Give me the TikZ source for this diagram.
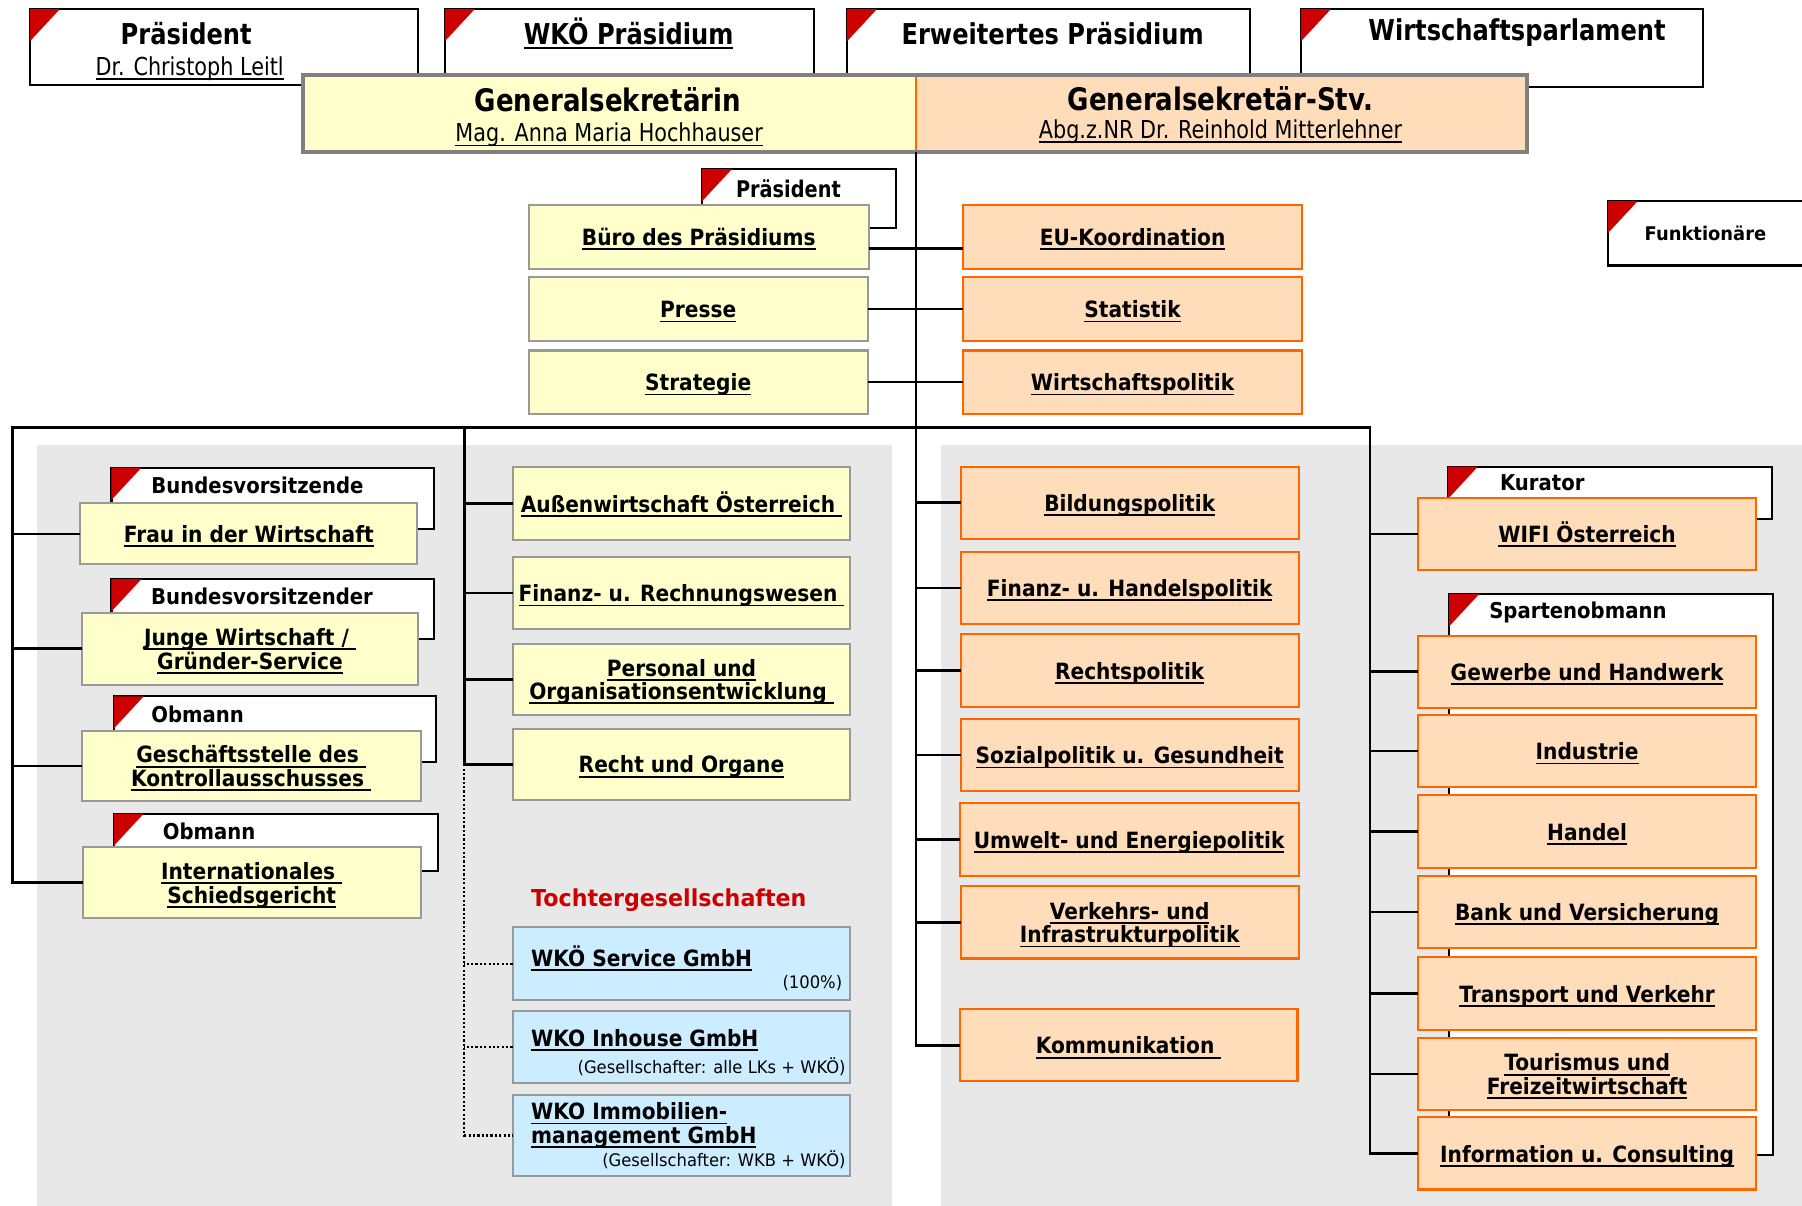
\documentclass[tikz,border=0pt]{standalone}
\usepackage{fontspec}
\setmainfont{DejaVu Sans}
\newfontfamily\lab[FakeStretch=0.9]{DejaVu Sans}
\newfontfamily\labw[FakeStretch=0.95]{DejaVu Sans}
\newfontfamily\cond[FakeStretch=0.84]{DejaVu Sans}
\newcommand\myul[1]{\begingroup\setbox0\hbox{#1}\rlap{\smash{\rule[-4pt]{\wd0}{1.6pt}}}\smash{\box0}\vrule height 0.9em depth 0.12em width 0pt\endgroup}
\definecolor{yel}{HTML}{FFFFCC}
\definecolor{peach}{HTML}{FFDDBB}
\definecolor{org}{HTML}{FF6600}
\definecolor{blu}{HTML}{CCECFF}
\definecolor{bgr}{HTML}{E8E8E8}
\definecolor{rd}{HTML}{CC0000}
\definecolor{gbord}{HTML}{999999}
\definecolor{gsbord}{HTML}{808080}
\tikzset{
 base/.style={rectangle, inner sep=0pt, outer sep=0pt, line width=1.8pt},
 ybox/.style={base, fill=yel, draw=gbord, lbl},
 obox/.style={base, fill=peach, draw=org, lbl},
 bbox/.style={base, fill=blu, draw=gbord},
 fbox/.style={base, fill=white, draw=black},
 tbox/.style={base, fill=white, draw=black},
 conn/.style={line width=2.3pt, black},
 dconn/.style={line width=1.9pt, black, dash pattern=on 1.9pt off 1.9pt},
 lbl/.style={font=\lab\bfseries\fontsize{19.5}{20.5}\selectfont, align=center},
 ft/.style={font=\lab\bfseries\fontsize{19}{20}\selectfont, inner sep=0pt},
 ftc/.style={font=\cond\bfseries\fontsize{20}{22}\selectfont, inner sep=0pt},
 tt/.style={font=\cond\bfseries\fontsize{25}{28}\selectfont, inner sep=0pt},
 tn/.style={font=\cond\fontsize{21.5}{24}\selectfont, inner sep=0pt},
 gt/.style={font=\cond\bfseries\fontsize{27}{30}\selectfont, inner sep=0pt},
 btit/.style={font=\lab\bfseries\fontsize{19.5}{20.5}\selectfont, inner sep=0pt, align=left},
 bsub/.style={font=\labw\fontsize{15}{16}\selectfont, inner sep=0pt},
}
\newcommand\mybox[7]{%
 \pgfmathsetmacro\bxw{#5-#3}\pgfmathsetmacro\bxh{#6-#4}%
 \pgfmathsetmacro\bxx{(#3+#5)/2}\pgfmathsetmacro\bxy{(#4+#6)/2}%
 \node[#2, minimum width=\bxw pt, minimum height=\bxh pt] (#1) at (\bxx,\bxy) {#7};}
\newcommand\redtri[1]{\fill[rd] (#1.north west) -- ++(26,0) -- ++(-26,28) -- cycle;}
\begin{document}
\begin{tikzpicture}[x=1pt,y=-1pt]
\useasboundingbox (0,0) rectangle (1568,1049);
\fill[white] (0,0) rectangle (1568,1049);
\fill[bgr] (32,387) rectangle (776,1049);
\fill[bgr] (819,387) rectangle (1568,1049);

% top row
\mybox{tp1}{tbox}{26}{8}{364}{74}{}\redtri{tp1}
\node[tt] (tp1a) at (162,29) {Präsident};
\node[tn] (tp1b) at (165,57) {\myul{Dr. Christoph Leitl}};
\mybox{tp2}{tbox}{387}{8}{708}{70}{}\redtri{tp2}
\node[tt] (tp2a) at (547,29) {\myul{WKÖ Präsidium}};
\mybox{tp3}{tbox}{737}{8}{1088}{70}{}\redtri{tp3}
\node[tt] (tp3a) at (916,29) {Erweitertes Präsidium};
\mybox{tp4}{tbox}{1132}{8}{1482}{76}{}\redtri{tp4}
\node[tt] (tp4a) at (1320,28) {Wirtschaftsparlament};

% Generalsekretariat
\mybox{gsl}{base, fill=yel}{264}{65}{797}{132}{}
\mybox{gsr}{base, fill=peach}{797}{65}{1329}{132}{}
\draw[org, line width=1.2pt] (gsl.north east) -- (gsl.south east);
\draw[gsbord, line width=3.5pt] (gsl.north west) rectangle (gsr.south east);
\node[gt] (gslt) at (529,87) {Generalsekretärin};
\node[tn] (gsln) at (530,115) {\myul{Mag. Anna Maria Hochhauser}};
\node[gt] (gsrt) at (1062,86) {Generalsekretär-Stv.};
\node[tn] (gsrn) at (1062,112) {\myul{Abg.z.NR Dr. Reinhold Mitterlehner}};

% legend
\mybox{funk}{fbox}{1399}{175}{1590}{231}{}\redtri{funk}
\node[font=\labw\bfseries\fontsize{16.4}{18}\selectfont, inner sep=0pt] (funkt) at (1484,203) {Funktionäre};

% staff units
\mybox{fpraes}{fbox}{611}{147}{780}{198}{}\redtri{fpraes}
\node[ftc] (fpraest) at (686,164) {Präsident};
\mybox{buero}{ybox}{460}{178}{756}{234}{\myul{Büro des Präsidiums}}
\mybox{presse}{ybox}{460}{241}{755}{297}{\myul{Presse}}
\mybox{strat}{ybox}{460}{305}{755}{360}{\myul{Strategie}}
\mybox{eu}{obox}{838}{178}{1133}{234}{\myul{EU-Koordination}}
\mybox{stat}{obox}{838}{241}{1133}{297}{\myul{Statistik}}
\mybox{wp}{obox}{838}{305}{1133}{360}{\myul{Wirtschaftspolitik}}

% left column
\mybox{fl1}{fbox}{97}{407}{378}{460}{}\redtri{fl1}
\node[ft] (fl1t) at (224,422) {Bundesvorsitzende};
\mybox{frau}{ybox}{70}{438}{363}{491}{\myul{Frau in der Wirtschaft}}
\mybox{fl2}{fbox}{97}{504}{378}{556}{}\redtri{fl2}
\node[ft] (fl2t) at (228,519) {Bundesvorsitzender};
\mybox{junge}{ybox}{71}{533}{364}{596}{\myul{Junge Wirtschaft /\ }\\\myul{Gründer-Service}}
\mybox{fl3}{fbox}{99}{606}{379}{663}{}\redtri{fl3}
\node[ft] (fl3t) at (172,622) {Obmann};
\mybox{gesch}{ybox}{71}{636}{366}{697}{\myul{Geschäftsstelle des\ }\\\myul{Kontrollausschusses\ }}
\mybox{fl4}{fbox}{99}{708}{381}{758}{}\redtri{fl4}
\node[ft] (fl4t) at (182,723) {Obmann};
\mybox{intl}{ybox}{72}{737}{366}{799}{\myul{Internationales\ }\\\myul{Schiedsgericht}}

% middle-left column
\mybox{aussen}{ybox}{446}{406}{740}{470}{\myul{Außenwirtschaft Österreich\ }}
\mybox{finrw}{ybox}{446}{485}{740}{547}{\myul{Finanz- u. Rechnungswesen\ }}
\mybox{pers}{ybox}{446}{560}{740}{622}{\myul{Personal und}\\\myul{Organisationsentwicklung\ }}
\mybox{recht}{ybox}{446}{634}{740}{696}{\myul{Recht und Organe}}
\node[font=\labw\bfseries\fontsize{20.3}{22}\selectfont, text=rd, inner sep=0pt] (toch) at (582,783) {Tochtergesellschaften};
\mybox{svc}{bbox}{446}{807}{740}{870}{}
\node[btit, anchor=west] (svct) at (462,833) {\myul{WKÖ Service GmbH}};
\node[bsub, anchor=east] (svcs) at (733,855) {(100\%)};
\mybox{inh}{bbox}{446}{880}{740}{942}{}
\node[btit, anchor=west] (inht) at (462,903) {\myul{WKO Inhouse GmbH}};
\node[bsub, anchor=east] (inhs) at (736,928) {(Gesellschafter: alle LKs + WKÖ)};
\mybox{immo}{bbox}{446}{953}{740}{1023}{}
\node[btit, anchor=west] (immot) at (462,977) {\myul{WKO Immobilien-}\\\myul{management GmbH}};
\node[bsub, anchor=east] (immos) at (736,1009) {(Gesellschafter: WKB + WKÖ)};

% middle-right column
\mybox{bild}{obox}{836}{406}{1130}{469}{\myul{Bildungspolitik}}
\mybox{finh}{obox}{836}{480}{1130}{543}{\myul{Finanz- u. Handelspolitik}}
\mybox{rechtsp}{obox}{836}{552}{1130}{615}{\myul{Rechtspolitik}}
\mybox{sozial}{obox}{836}{626}{1130}{688}{\myul{Sozialpolitik u. Gesundheit}}
\mybox{umwelt}{obox}{835}{699}{1130}{762}{\myul{Umwelt- und Energiepolitik}}
\mybox{verk}{obox}{836}{771}{1130}{834}{\myul{Verkehrs- und}\\\myul{Infrastrukturpolitik}}
\mybox{komm}{obox}{835}{878}{1129}{941}{\myul{Kommunikation\ }}

% right column
\mybox{kur}{fbox}{1260}{406}{1542}{452}{}\redtri{kur}
\node[ft] (kurt) at (1342,420) {Kurator};
\mybox{wifi}{obox}{1234}{433}{1528}{496}{\myul{WIFI Österreich}}
\mybox{spart}{fbox}{1261}{517}{1543}{1005}{}\redtri{spart}
\node[ft] (spartt) at (1373,533) {Spartenobmann};
\mybox{gew}{obox}{1234}{553}{1528}{616}{\myul{Gewerbe und Handwerk}}
\mybox{ind}{obox}{1234}{622}{1528}{685}{\myul{Industrie}}
\mybox{handel}{obox}{1234}{692}{1528}{755}{\myul{Handel}}
\mybox{bank}{obox}{1234}{762}{1528}{825}{\myul{Bank und Versicherung}}
\mybox{transp}{obox}{1234}{833}{1528}{896}{\myul{Transport und Verkehr}}
\mybox{tour}{obox}{1234}{903}{1528}{966}{\myul{Tourismus und}\\\myul{Freizeitwirtschaft}}
\mybox{info}{obox}{1234}{972}{1528}{1035}{\myul{Information u. Consulting}}

% connectors
\coordinate (busL) at (11,372);
\coordinate (busA) at (404,372);
\coordinate (busC) at (797,372);
\coordinate (busR) at (1192,372);
\draw[conn] (gsl.south east) |- (komm.west);
\draw[conn] ([yshift=-10pt]buero.east) -- ([yshift=-10pt]eu.west);
\draw[conn] (presse.east) -- (stat.west);
\draw[conn] (strat.east) -- (wp.west);
\draw[conn] (busC) -- (busL) |- (intl.west);
\draw[conn] (busC) -- (busR) |- (info.west);
\draw[conn] (busA) |- (recht.west);
\foreach \n in {frau,junge,gesch}{\draw[conn] (\n.west) -- (\n.west -| busL);}
\foreach \n in {aussen,finrw,pers}{\draw[conn] (\n.west) -- (\n.west -| busA);}
\foreach \n in {bild,finh,rechtsp,sozial,umwelt,verk}{\draw[conn] (\n.west) -- (\n.west -| busC);}
\foreach \n in {wifi,gew,ind,handel,bank,transp,tour}{\draw[conn] (\n.west) -- (\n.west -| busR);}
\draw[dconn] (recht.west -| busA) |- (immo.west);
\draw[dconn] (svc.west) -- (svc.west -| busA);
\draw[dconn] (inh.west) -- (inh.west -| busA);
\end{tikzpicture}
\end{document}
